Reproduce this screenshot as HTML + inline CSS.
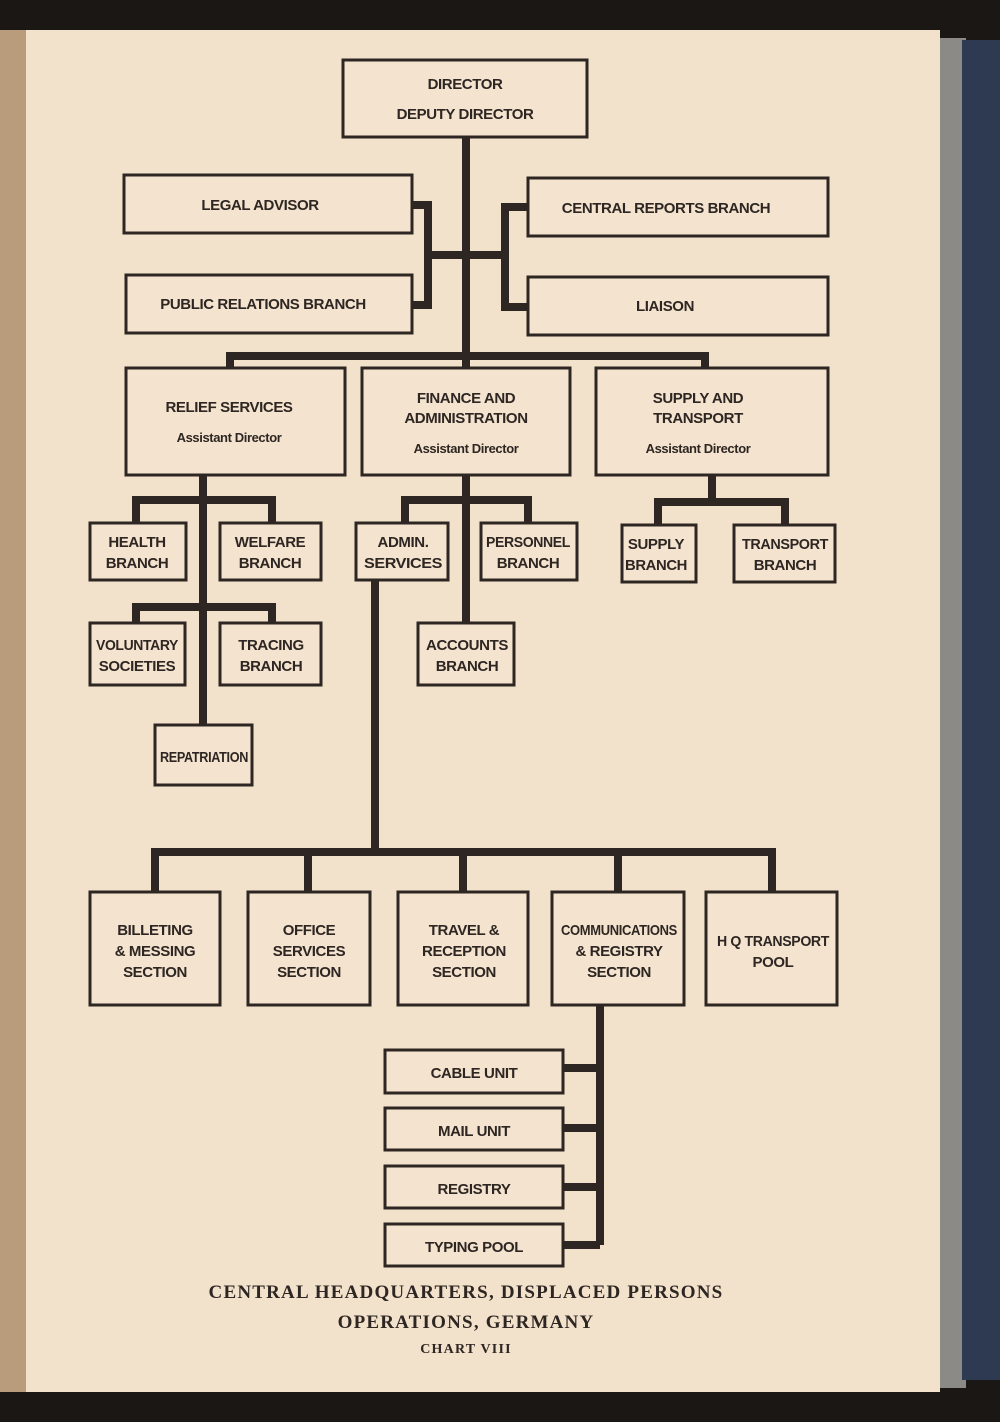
<!DOCTYPE html>
<html><head><meta charset="utf-8"><style>
html,body{margin:0;padding:0;background:#1b1715;}
svg{display:block}
.b{fill:#f4e4cf;stroke:#2e2622;stroke-width:3}
.t{font-family:"Liberation Sans Narrow","Liberation Sans",sans-serif;font-weight:bold;font-size:15px;fill:#2e2622;text-anchor:middle;letter-spacing:-0.4px}
.s{font-size:13px}
.l{stroke:#2e2622;stroke-width:8;fill:none}
.c{font-family:"Liberation Serif",serif;font-size:19px;font-weight:bold;fill:#2e2622;text-anchor:middle;letter-spacing:1.2px}
</style></head><body>
<svg width="1000" height="1422" viewBox="0 0 1000 1422">
<rect x="0" y="0" width="1000" height="1422" fill="#1b1715"/>
<rect x="0" y="30" width="28" height="1362" fill="#b89c7c"/>
<rect x="936" y="38" width="30" height="1350" fill="#8c8a86"/>
<rect x="962" y="40" width="38" height="1340" fill="#2d3a52"/>
<rect x="26" y="30" width="914" height="1362" fill="#f2e1cb"/>
<g class="l">
<path d="M466 137V368"/>
<path d="M412 205H428V305H412M428 255H505M528 207H505V307H528"/>
<path d="M230 368V356H705V368"/>
<path d="M203 475V725M136 523V500H272V523M136 623V607H272V623"/>
<path d="M466 475V623M405 523V500H528V523"/>
<path d="M712 475V500M658 525V502H785V525"/>
<path d="M375 580V852M155 892V852H772V892M308 852V892M463 852V892M618 852V892"/>
<path d="M600 1005V1245M563 1068H600M563 1128H600M563 1187H600M563 1245H600"/>
</g>
<rect class="b" x="343" y="60" width="244" height="77"/>
<text class="t" x="465" y="89">DIRECTOR</text><text class="t" x="465" y="119">DEPUTY DIRECTOR</text>
<rect class="b" x="124" y="175" width="288" height="58"/><text class="t" x="260" y="210">LEGAL ADVISOR</text>
<rect class="b" x="528" y="178" width="300" height="58"/><text class="t" x="666" y="213">CENTRAL REPORTS BRANCH</text>
<rect class="b" x="126" y="275" width="286" height="58"/><text class="t" x="263" y="309">PUBLIC RELATIONS BRANCH</text>
<rect class="b" x="528" y="277" width="300" height="58"/><text class="t" x="665" y="311">LIAISON</text>
<rect class="b" x="126" y="368" width="219" height="107"/>
<text class="t" x="229" y="412">RELIEF SERVICES</text><text class="t s" x="229" y="442">Assistant Director</text>
<rect class="b" x="362" y="368" width="208" height="107"/>
<text class="t" x="466" y="403">FINANCE AND</text><text class="t" x="466" y="423">ADMINISTRATION</text><text class="t s" x="466" y="453">Assistant Director</text>
<rect class="b" x="596" y="368" width="232" height="107"/>
<text class="t" x="698" y="403">SUPPLY AND</text><text class="t" x="698" y="423">TRANSPORT</text><text class="t s" x="698" y="453">Assistant Director</text>
<rect class="b" x="90" y="523" width="96" height="57"/><text class="t" x="137" y="547">HEALTH</text><text class="t" x="137" y="568">BRANCH</text>
<rect class="b" x="220" y="523" width="101" height="57"/><text class="t" x="270" y="547">WELFARE</text><text class="t" x="270" y="568">BRANCH</text>
<rect class="b" x="356" y="523" width="92" height="57"/><text class="t" x="403" y="547">ADMIN.</text><text class="t" x="403" y="568" textLength="78" lengthAdjust="spacingAndGlyphs">SERVICES</text>
<rect class="b" x="481" y="523" width="96" height="57"/><text class="t" x="528" y="547" textLength="84" lengthAdjust="spacingAndGlyphs">PERSONNEL</text><text class="t" x="528" y="568">BRANCH</text>
<rect class="b" x="622" y="525" width="74" height="57"/><text class="t" x="656" y="549">SUPPLY</text><text class="t" x="656" y="570" textLength="62" lengthAdjust="spacingAndGlyphs">BRANCH</text>
<rect class="b" x="734" y="525" width="101" height="57"/><text class="t" x="785" y="549" textLength="86" lengthAdjust="spacingAndGlyphs">TRANSPORT</text><text class="t" x="785" y="570">BRANCH</text>
<rect class="b" x="90" y="623" width="95" height="62"/><text class="t" x="137" y="650" textLength="82" lengthAdjust="spacingAndGlyphs">VOLUNTARY</text><text class="t" x="137" y="671">SOCIETIES</text>
<rect class="b" x="220" y="623" width="101" height="62"/><text class="t" x="271" y="650">TRACING</text><text class="t" x="271" y="671">BRANCH</text>
<rect class="b" x="418" y="623" width="96" height="62"/><text class="t" x="467" y="650" textLength="82" lengthAdjust="spacingAndGlyphs">ACCOUNTS</text><text class="t" x="467" y="671">BRANCH</text>
<rect class="b" x="155" y="725" width="97" height="60"/><text class="t" x="204" y="762" textLength="88" lengthAdjust="spacingAndGlyphs">REPATRIATION</text>
<rect class="b" x="90" y="892" width="130" height="113"/><text class="t" x="155" y="935">BILLETING</text><text class="t" x="155" y="956">&amp; MESSING</text><text class="t" x="155" y="977">SECTION</text>
<rect class="b" x="248" y="892" width="122" height="113"/><text class="t" x="309" y="935">OFFICE</text><text class="t" x="309" y="956">SERVICES</text><text class="t" x="309" y="977">SECTION</text>
<rect class="b" x="398" y="892" width="130" height="113"/><text class="t" x="464" y="935">TRAVEL &amp;</text><text class="t" x="464" y="956">RECEPTION</text><text class="t" x="464" y="977">SECTION</text>
<rect class="b" x="552" y="892" width="132" height="113"/><text class="t" x="619" y="935" textLength="116" lengthAdjust="spacingAndGlyphs">COMMUNICATIONS</text><text class="t" x="619" y="956">&amp; REGISTRY</text><text class="t" x="619" y="977">SECTION</text>
<rect class="b" x="706" y="892" width="131" height="113"/><text class="t" x="773" y="946" textLength="112" lengthAdjust="spacingAndGlyphs">H Q TRANSPORT</text><text class="t" x="773" y="967">POOL</text>
<rect class="b" x="385" y="1050" width="178" height="43"/><text class="t" x="474" y="1078">CABLE UNIT</text>
<rect class="b" x="385" y="1108" width="178" height="42"/><text class="t" x="474" y="1136">MAIL UNIT</text>
<rect class="b" x="385" y="1166" width="178" height="42"/><text class="t" x="474" y="1194">REGISTRY</text>
<rect class="b" x="385" y="1224" width="178" height="42"/><text class="t" x="474" y="1252">TYPING POOL</text>
<text class="c" x="466" y="1298">CENTRAL HEADQUARTERS, DISPLACED PERSONS</text>
<text class="c" x="466" y="1328">OPERATIONS, GERMANY</text>
<text class="c" x="466" y="1353" style="font-size:14px">CHART VIII</text>
</svg>
</body></html>
